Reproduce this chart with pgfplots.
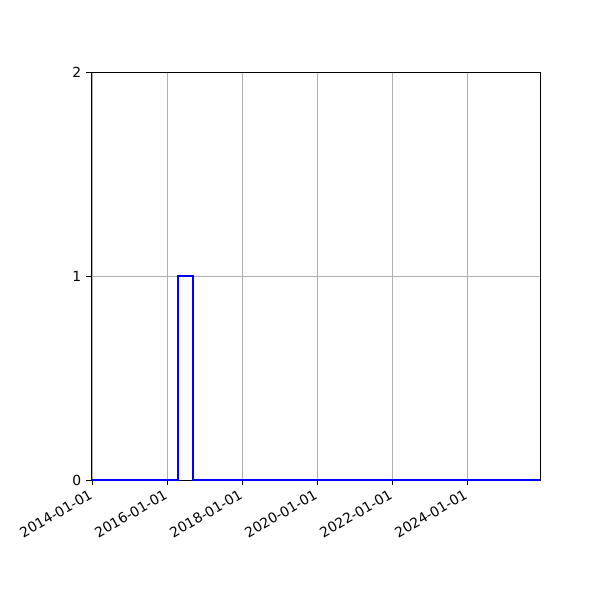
\documentclass[border=0pt]{standalone}
\usepackage{pgfplots}
\pgfplotsset{compat=1.18}
\usepackage{fontspec}
\setmainfont{DejaVu Sans}
\begin{document}
\begin{tikzpicture}
\path[use as bounding box] (0,0) rectangle (432pt,432pt);
\begin{axis}[
    at={(65.52pt,86.4pt)}, anchor=south west,
    scale only axis,
    width=323.28pt, height=293.76pt,
    xmin=2013.965, xmax=2025.94,
    ymin=0, ymax=2,
    xtick={2014,2016,2018,2020,2022,2024},
    xticklabels={2014-01-01,2016-01-01,2018-01-01,2020-01-01,2022-01-01,2024-01-01},
    ytick={0,1,2},
    x tick label style={rotate=30, anchor=north east, yshift=2.5pt, xshift=-0.5pt, font=\fontsize{10}{12}\selectfont},
    y tick label style={font=\fontsize{10}{12}\selectfont},
    /pgf/number format/assume math mode=true,
    tick align=outside,
    major tick length=3.5pt,
    tick style={black, line width=0.7pt},
    xtick pos=bottom, ytick pos=left,
    axis line style={black, line width=0.7pt},
    grid=major,
    grid style={color={rgb,255:red,176;green,176;blue,176}, line width=0.7pt},
    clip=false,
]
\addplot[blue, line width=1.5pt, line join=miter] coordinates {
    (2013.965,0) (2016.285,0) (2016.285,1) (2016.69,1) (2016.69,0) (2025.94,0)
};
\end{axis}
\end{tikzpicture}
\end{document}
